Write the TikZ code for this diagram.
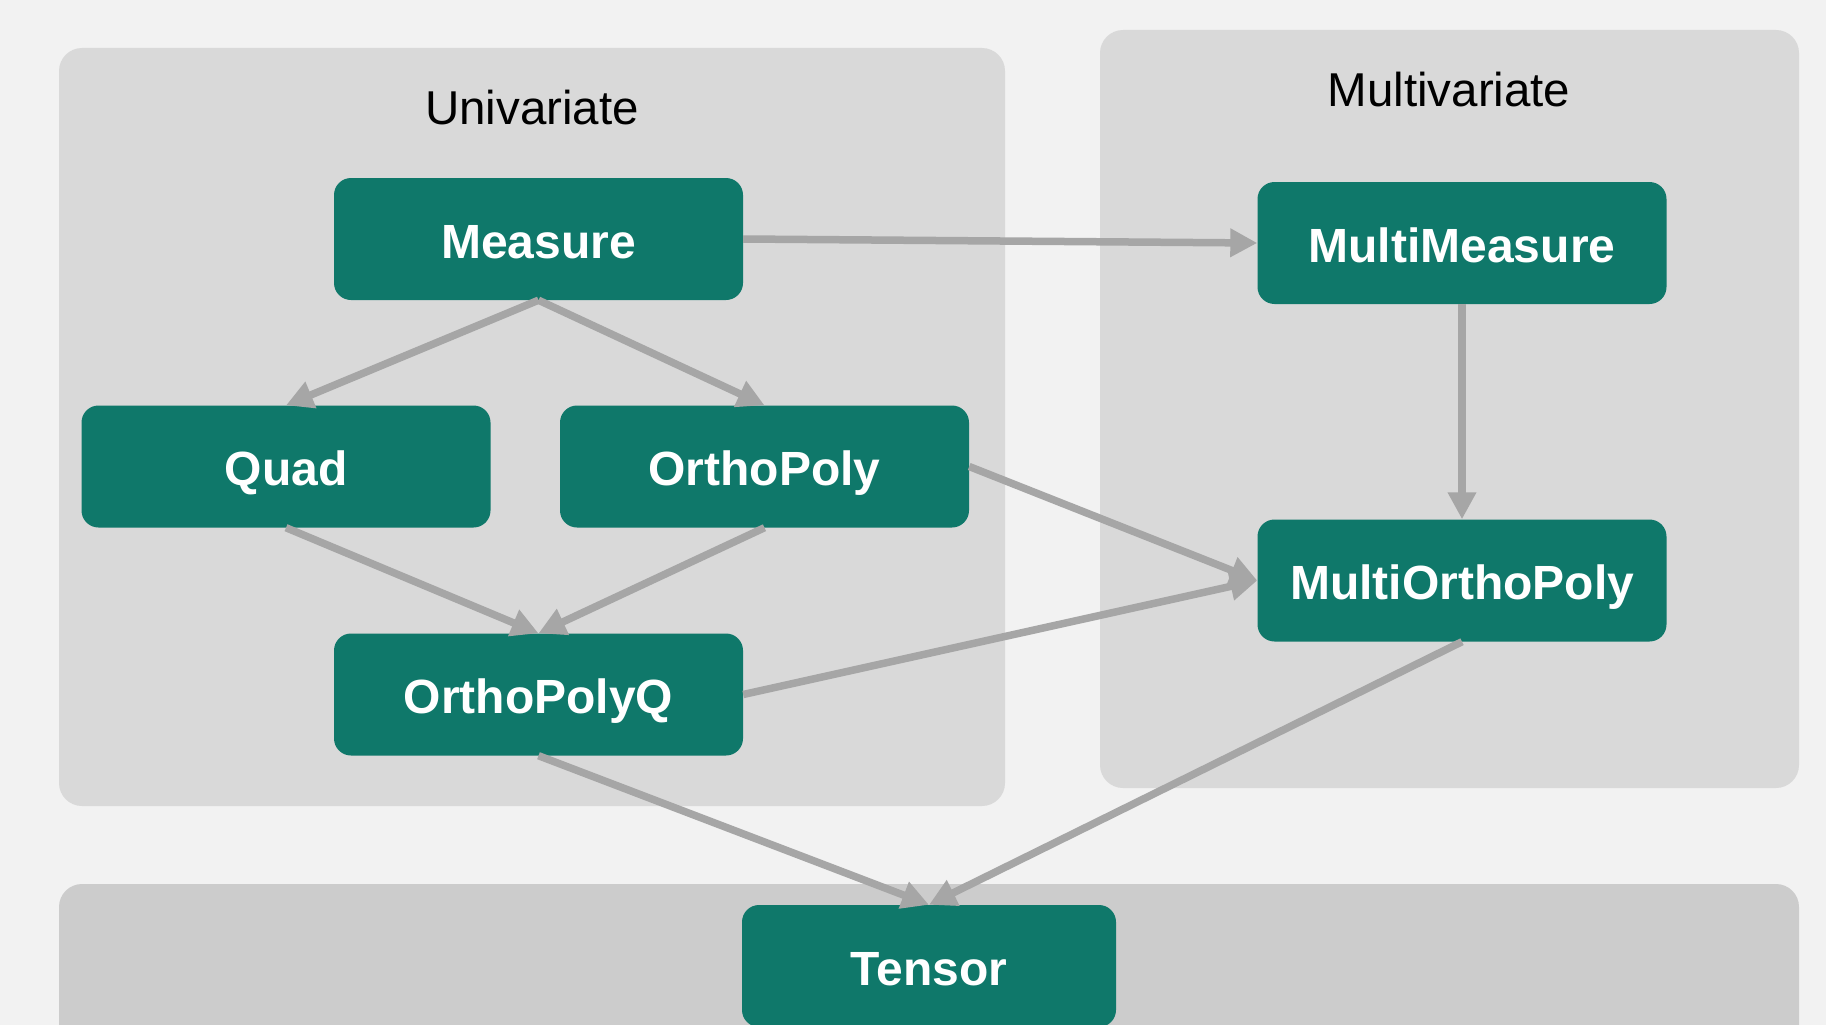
\documentclass[tikz,border=0pt]{standalone}
\usepackage{fontspec}
\setmainfont{Liberation Sans}
\usetikzlibrary{arrows.meta}
\definecolor{bgc}{HTML}{F2F2F2}
\definecolor{panelc}{HTML}{D9D9D9}
\definecolor{panelb}{HTML}{CCCCCC}
\definecolor{tealc}{RGB}{15,120,106}
\definecolor{arrc}{HTML}{A6A6A6}
\tikzset{
  cls/.style={rectangle, rounded corners=17pt, fill=tealc, text=white, inner sep=0pt,
    minimum width=409pt, minimum height=122pt, text height=38pt, text depth=0pt,
    font=\fontsize{48}{56}\selectfont\bfseries},
  paneltitle/.style={font=\fontsize{47.5}{56}\selectfont, text=black, inner sep=0pt},
  link/.style={draw=arrc, line width=7.5pt, -{Triangle[length=27pt,width=27pt]}},
}
\begin{document}
\begin{tikzpicture}[x=1pt,y=-1pt]
\useasboundingbox (0,0) rectangle (1826,1025);
\clip (0,0) rectangle (1826,1025);
\fill[bgc] (0,0) rectangle (1826,1025);
% panels
\fill[panelc, rounded corners=23pt] (59,48) rectangle (1005,806);
\fill[panelc, rounded corners=23pt] (1100,30) rectangle (1799,788);
\fill[panelb, rounded corners=23pt] (59,884) rectangle (1799,1080);
\node[paneltitle] (tuni) at (532,108) {Univariate};
\node[paneltitle] (tmulti) at (1449,90) {Multivariate};
% nodes
\node[cls] (measure) at (538.5,239) {Measure};
\node[cls] (quad) at (286,466.5) {Quad};
\node[cls] (ortho) at (764.5,466.5) {OrthoPoly};
\node[cls] (orthoq) at (538.5,694.5) {OrthoPolyQ};
\node[cls] (mmeas) at (1462,243) {MultiMeasure};
\node[cls] (mortho) at (1462,580.5) {MultiOrthoPoly};
\node[cls, minimum width=374pt] (tensor) at (929,966) {Tensor};
% connectors
\draw[link] (measure.east) -- (mmeas.west);
\draw[link] (measure.south) -- (quad.north);
\draw[link] (measure.south) -- (ortho.north);
\draw[link] (quad.south) -- (orthoq.north);
\draw[link] (ortho.south) -- (orthoq.north);
\draw[link] (ortho.east) -- (mortho.west);
\draw[link] (orthoq.east) -- (mortho.west);
\draw[link] (mmeas.south) -- (mortho.north);
\draw[link] (orthoq.south) -- (tensor.north);
\draw[link] (mortho.south) -- (tensor.north);
\end{tikzpicture}
\end{document}
